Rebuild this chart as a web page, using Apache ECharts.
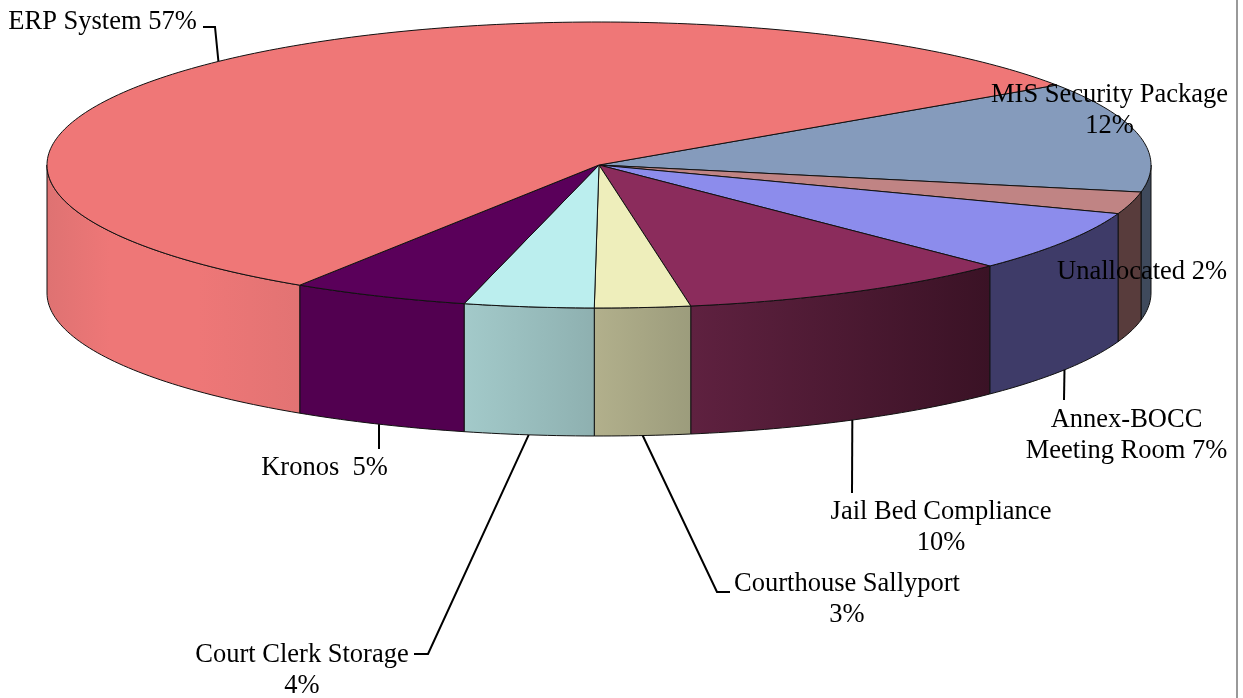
<!DOCTYPE html>
<html><head><meta charset="utf-8">
<style>html,body{margin:0;padding:0;background:#fff}#c{width:1243px;height:698px}</style>
<script src="https://cdn.jsdelivr.net/npm/echarts@6/dist/echarts.min.js"></script>
</head><body><div id="c"></div>
<script>
const categories = ['MIS Security Package','Unallocated','Annex-BOCC Meeting Room','Jail Bed Compliance','Courthouse Sallyport','Court Clerk Storage','Kronos','ERP System'];
const shares = [12.5,2.5,6.97,9.88,2.8,3.8,5.2,56.55];
const labels = ['MIS Security Package\n12%','Unallocated 2%','Annex-BOCC\nMeeting Room 7%','Jail Bed Compliance\n10%','Courthouse Sallyport\n3%','Court Clerk Storage\n4%','Kronos  5%','ERP System 57%'];

const topColors = ['#859BBC','#C08484','#8C8CEC','#8B2C5C','#EEEEBB','#BBEEEE','#5A005A','#EF7777'];
const wallColors = [['#3F4A5C','#3F4A5C'],['#583C3C','#583C3C'],['#3E3B68','#3E3B68'],['#5F2140','#3A1225'],['#B2B08C','#9C9C7C'],['#A3CACA','#8EB0B0'],['#520050','#520050'],['#DE7272','#EE7777','#EE7777','#E27373']];
const wallStops = {7:[0,0.25,0.6,1]};
const PIE = {cx:599, cy:165, rx:552, ry:143, depth:128, start:34};
const labelPos = [[1109.5,110.5],[1142,272.5],[1126.5,435.5],[941,527.5],[847,599.5],[302,670.5],[324.5,468.5],[102.5,22.5]];
const leaderTail = [null,null,[[1064,400]],[[852,493]],[[717,592],[730,592]],[[428,654],[414,654]],[[379,449]],[[215,27],[203,27]]];
const leaderAngleShift = [0,0,-0.1,0,0,0,0,-2];

const total = shares.reduce((a,b)=>a+b,0);
let acc = PIE.start;
const spans = shares.map(v=>{const s=acc; acc-=v/total*360; return [s,acc];});
const pt=(a,dy=0)=>{const r=a*Math.PI/180;return [PIE.cx+PIE.rx*Math.cos(r),PIE.cy-PIE.ry*Math.sin(r)+dy];};
const arc=(a,b,dy=0)=>{const out=[],n=Math.max(2,Math.ceil(Math.abs(a-b)));for(let i=0;i<=n;i++)out.push(pt(a+(b-a)*i/n,dy));return out;};
const FONT='26.5px "Liberation Serif"';

function renderItem(params, api){
  const i=params.dataIndex, [a,b]=spans[i], children=[];
  const hi=Math.min(a,0), lo=Math.max(b,-180);
  if(hi>lo){
    const cols=wallColors[i], st=wallStops[i];
    const top=arc(hi,lo), bot=arc(lo,hi,PIE.depth);
    children.push({type:'polygon',z2:5,shape:{points:top.concat(bot)},
      style:{fill:{type:'linear',x:0,y:0,x2:1,y2:0,colorStops:cols.map((c,k)=>({offset:st?st[k]:k/(cols.length-1),color:c}))},stroke:'#111',lineWidth:1}});
  }
  children.push({type:'polygon',z2:10,shape:{points:[[PIE.cx,PIE.cy]].concat(arc(a,b))},
    style:{fill:topColors[i],stroke:'#111',lineWidth:1,lineJoin:'round'}});
  if(leaderTail[i]){
    const m=(a+b)/2+leaderAngleShift[i];
    const anchor=pt(m,Math.sin(m*Math.PI/180)<0?PIE.depth:0);
    children.push({type:'polyline',z2:20,shape:{points:[anchor].concat(leaderTail[i])},style:{fill:null,stroke:'#000',lineWidth:2}});
  }
  children.push({type:'text',z2:30,style:{text:api.value(1),x:labelPos[i][0],y:labelPos[i][1],font:FONT,fill:'#000',align:'center',verticalAlign:'middle',lineHeight:31}});
  return {type:'group',children};
}

const chart=echarts.init(document.getElementById('c'),null,{renderer:'canvas',width:1243,height:698});
chart.setOption({
  animation:false,backgroundColor:'#fff',
  graphic:[{type:'rect',silent:true,shape:{x:1236,y:0,width:2,height:698},style:{fill:'#999'}}],
  series:[{type:'custom',coordinateSystem:'none',silent:true,renderItem,
    data:categories.map((c,i)=>[shares[i],labels[i],c])}]
});
</script></body></html>
